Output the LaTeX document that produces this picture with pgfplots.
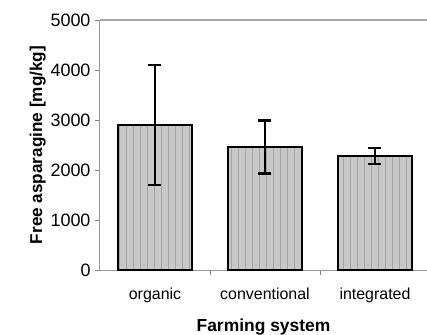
\documentclass[border=0pt]{standalone}
\usepackage{pgfplots}
\pgfplotsset{compat=1.18}
\usetikzlibrary{patterns.meta}
\usepackage{fontspec}
\setmainfont{Liberation Sans}
\definecolor{barfill}{HTML}{C8C8C8}
\definecolor{barline}{HTML}{A4A4A4}
\begin{document}
\begin{tikzpicture}
\begin{axis}[
  scale only axis, width=327bp, height=250bp,
  xmin=-0.5, xmax=2.473, ymin=0, ymax=5000,
  axis line style={draw=none},
  clip=false,
  xtick pos=bottom, ytick pos=left,
  ytick={0,1000,2000,3000,4000,5000},
  xtick={0.5,1.5}, xticklabels={},
  extra x ticks={0,1,2}, extra x tick labels={organic,conventional,integrated},
  extra x tick style={major tick length=0pt, xticklabel style={yshift=-14bp}},
  tick align=outside, major tick length=5bp,
  tick style={draw=gray, line width=0.8bp},
  /pgf/number format/assume math mode=true,
  scaled y ticks=false,
  yticklabel style={/pgf/number format/1000 sep={}, font=\fontsize{18}{18}\selectfont, xshift=-1bp},
  xticklabel style={font=\fontsize{16}{16}\selectfont},
  ylabel={\bfseries Free asparagine [mg/kg]},
  ylabel style={font=\fontsize{17.2}{17}\selectfont, yshift=-2bp},
  xlabel={\bfseries Farming system},
  xlabel style={font=\fontsize{17.5}{17}\selectfont, yshift=-5bp},
]
\draw[gray!80, line width=1bp] (rel axis cs:0,1) -- (rel axis cs:0,0) -- (rel axis cs:1,0);
\draw[gray!70, line width=1.2bp] (rel axis cs:0,1) -- (rel axis cs:1,1);
\addplot[ybar, bar width=74bp, draw=black, line width=2.8bp, fill=barfill,
  postaction={pattern={Lines[angle=90,distance=7bp,line width=0.5bp]}, pattern color=barline},
  error bars/.cd, y dir=both, y explicit,
  error bar style={line width=2.6bp, black},
  error mark options={rotate=90, mark size=6.5bp, line width=2.6bp, black}]
coordinates {
  (0,2900) +- (0,1200)
  (1,2460) +- (0,530)
  (2,2280) +- (0,160)
};
\end{axis}
\pgfresetboundingbox
\useasboundingbox (-100bp,-65bp) rectangle (327bp,270bp);
\end{tikzpicture}
\end{document}
